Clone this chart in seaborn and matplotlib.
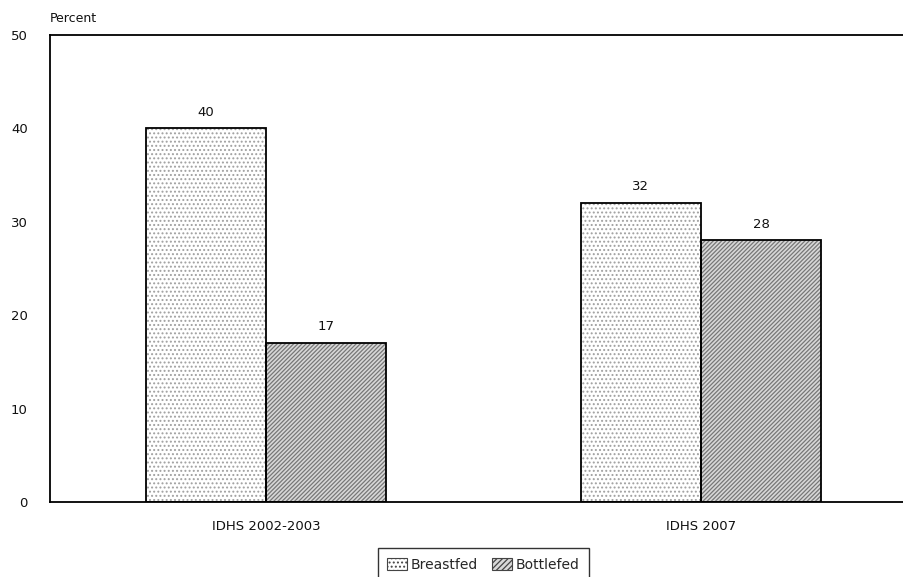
import matplotlib
matplotlib.use("Agg")
import matplotlib.pyplot as plt
from matplotlib.patches import Patch
import pandas as pd
import seaborn as sns

# Survey rounds and percentage of children by feeding practice
surveys = ["IDHS 2002-2003", "IDHS 2007"]
groups = ["Breastfed", "Bottlefed"]
breastfed = [40, 32]
bottlefed = [17, 28]
y_ticks = [0, 10, 20, 30, 40, 50]

df = pd.DataFrame({
    "survey": surveys * 2,
    "group": [groups[0]] * len(surveys) + [groups[1]] * len(surveys),
    "pct": breastfed + bottlefed,
})

sns.set_theme(style="white")
plt.rcParams["font.family"] = ["DejaVu Sans"]
plt.rcParams["hatch.linewidth"] = 0.9

fig = plt.figure(figsize=(9.04, 5.77), dpi=100)
ax = fig.add_axes([50 / 904, 1 - 502 / 577, 867 / 904, 467 / 577])

bar_width = 0.552
hatches = ["....", "////////"]
hatch_colors = ["#a0a0a0", "#777777"]

# Hatched fills
sns.barplot(data=df, x="survey", y="pct", hue="group", hue_order=groups,
            palette=["white", "#d8d8d8"], width=bar_width, linewidth=0,
            legend=False, ax=ax)
fill_containers = list(ax.containers)
for cont, h, hc in zip(fill_containers, hatches, hatch_colors):
    for bar in cont:
        bar.set_hatch(h)
        bar.set_edgecolor(hc)
        bar.set_linewidth(0)

# Black outlines on top of the fills
sns.barplot(data=df, x="survey", y="pct", hue="group", hue_order=groups,
            palette=["black", "black"], width=bar_width, fill=False,
            linewidth=1.3, legend=False, ax=ax)

for cont in fill_containers:
    ax.bar_label(cont, fmt="%d", padding=7, fontsize=9.5, color="#111111")

ax.set_xlim(-216 / 435, 1 + 216 / 435)
ax.set_ylim(0, 50)
ax.set_yticks(y_ticks)
ax.set_yticklabels([str(v) for v in y_ticks])
ax.set_xlabel("")
ax.set_ylabel("")
ax.tick_params(axis="both", length=0, labelsize=9.5, colors="#111111")
ax.tick_params(axis="y", pad=16)
ax.tick_params(axis="x", pad=13)
for s in ax.spines.values():
    s.set_color("black")
    s.set_linewidth(1.3)

ax.text(0, 1.036, "Percent", transform=ax.transAxes, ha="left", va="center",
        fontsize=9, color="#111111")

handles = [Patch(facecolor="white", edgecolor="#444444", hatch=hatches[0], linewidth=0.8),
           Patch(facecolor="#d8d8d8", edgecolor="#444444", hatch="//////", linewidth=0.8)]
leg = fig.legend(handles=handles, labels=groups, loc="upper center",
                 bbox_to_anchor=(483.5 / 904, 1 - 548 / 577), ncol=2,
                 fontsize=10, frameon=True, fancybox=False, shadow=False,
                 handlelength=1.4, handleheight=0.9, handletextpad=0.3,
                 columnspacing=1.0, borderpad=0.7, borderaxespad=0)
leg.get_frame().set_edgecolor("black")
leg.get_frame().set_linewidth(1.0)

fig.savefig("out.png", dpi=100)
